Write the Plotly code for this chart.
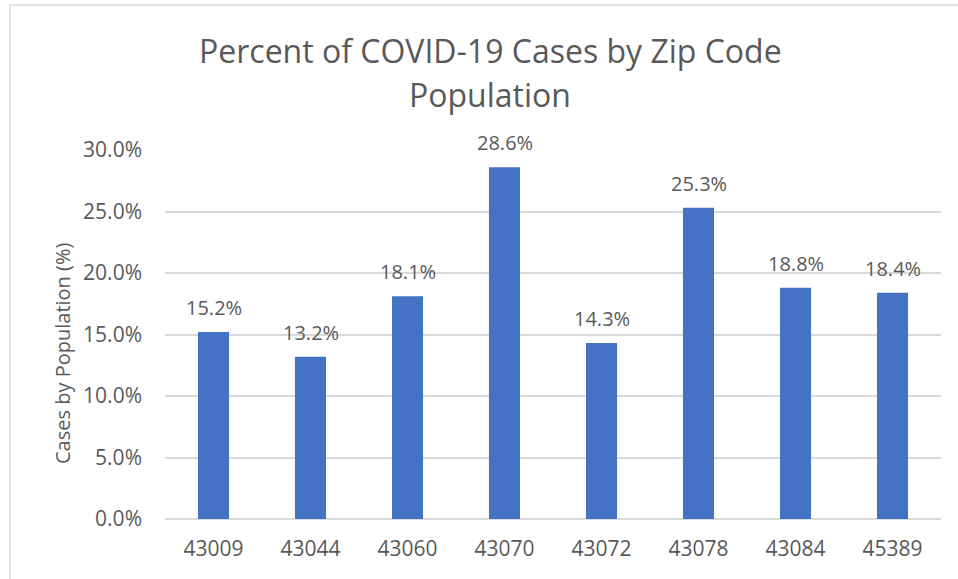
import plotly.graph_objects as go

zip_codes = ["43009", "43044", "43060", "43070", "43072", "43078", "43084", "45389"]
case_pct = [15.2, 13.2, 18.1, 28.6, 14.3, 25.3, 18.8, 18.4]
y_ticks = [0, 5, 10, 15, 20, 25, 30]
y_tick_labels = ["0.0%", "5.0%", "10.0%", "15.0%", "20.0%", "25.0%", "30.0%"]
title_lines = ["Percent of COVID-19 Cases by Zip Code", "Population"]
y_title = "Cases by Population (%)"

W, H = 958, 579
L, R, T, B = 165, 17, 150, 60
pw, ph = W - L - R, H - T - B

def px_x(p):
    return (p - L) / pw

def px_y(p):
    return (H - B - p) / ph

FONT = "Open Sans"
GREY = "#595959"

pos = list(range(len(zip_codes)))

fig = go.Figure()
fig.add_trace(go.Bar(
    x=pos, y=case_pct,
    marker=dict(color="#4472C4", line=dict(width=0)),
    hoverinfo="skip",
))

annotations = []
for i, v in zip(pos, case_pct):
    annotations.append(dict(
        x=i, y=v, xref="x", yref="y", text=f"{v:.1f}%", showarrow=False,
        yanchor="bottom", yshift=9, font=dict(family=FONT, size=20, color=GREY),
    ))

annotations.append(dict(
    x=px_x(490), y=px_y(50), xref="paper", yref="paper", text=title_lines[0],
    showarrow=False, xanchor="center", yanchor="middle",
    font=dict(family=FONT, size=32, color=GREY),
))
annotations.append(dict(
    x=px_x(490), y=px_y(95), xref="paper", yref="paper", text=title_lines[1],
    showarrow=False, xanchor="center", yanchor="middle",
    font=dict(family=FONT, size=32, color=GREY),
))
annotations.append(dict(
    x=px_x(62), y=px_y(354), xref="paper", yref="paper", text=y_title,
    showarrow=False, xanchor="center", yanchor="middle", textangle=-90,
    font=dict(family=FONT, size=20, color=GREY),
))

fig.update_layout(
    width=W, height=H,
    margin=dict(l=L, r=R, t=T, b=B, autoexpand=False),
    paper_bgcolor="white", plot_bgcolor="white",
    showlegend=False,
    bargap=0.68,
    annotations=annotations,
    shapes=[dict(
        type="rect", xref="paper", yref="paper",
        x0=px_x(10), x1=px_x(1000), y0=px_y(620), y1=px_y(5),
        line=dict(color="#D9D9D9", width=1.5), fillcolor="rgba(0,0,0,0)", layer="below",
    )],
    xaxis=dict(
        range=[-0.5, len(zip_codes) - 0.5],
        tickmode="array", tickvals=pos, ticktext=zip_codes,
        showgrid=False, zeroline=False, showline=False,
        ticks="", tickfont=dict(family=FONT, size=21, color=GREY),
        ticklabelstandoff=15, fixedrange=True,
    ),
    yaxis=dict(
        range=[0, 30], tickvals=y_ticks, ticktext=y_tick_labels,
        showgrid=True, gridcolor="#D9D9D9", gridwidth=1.5,
        zeroline=True, zerolinecolor="#D9D9D9", zerolinewidth=1.5,
        showline=False, ticks="", ticklabelstandoff=22,
        tickfont=dict(family=FONT, size=21, color=GREY), fixedrange=True,
    ),
)

fig.write_html("out.html", config={"displayModeBar": False},
               post_script="document.body.style.margin='0';")
